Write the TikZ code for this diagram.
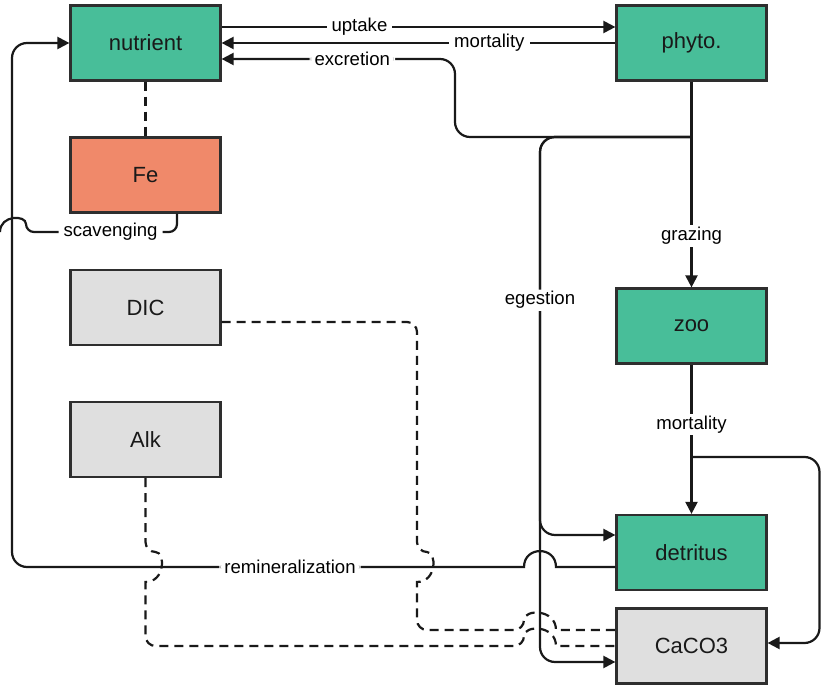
\documentclass[tikz,border=0pt]{standalone}
\usepackage{fontspec}
\setmainfont{Liberation Sans}
\usepackage{xcolor}
\usepackage{tikz}
\usetikzlibrary{arrows.meta,calc}
\definecolor{poolgreen}{HTML}{48BE99}
\definecolor{feorange}{HTML}{F0896A}
\definecolor{carbgray}{HTML}{DFDFDF}
\definecolor{edgegray}{HTML}{2E2E2E}
\tikzset{
	>={Triangle[length=6pt,width=6pt]},
	pool/.style = {
			rectangle,
			draw            = edgegray,
			line width      = 1.1pt,
			minimum width   = 75pt,
			minimum height  = 37.5pt,
			text            = black!90,
			font            = \fontsize{11}{13}\selectfont,
		},
	flow/.style = {draw=black!90, line width=1.1pt},
	dashlink/.style = {flow, dash pattern=on 4.5pt off 3pt},
	lbl/.style = {fill=white, inner xsep=2.5pt, inner ysep=1pt, font=\fontsize{9.3}{11}\selectfont},
	hopup/.style = {out=90, in=90, looseness=1.7},
	hopright/.style = {out=0, in=0, looseness=1.7},
}
\begin{document}
\begin{tikzpicture}[x=0.5pt,y=0.5pt]
	\useasboundingbox (0,0) rectangle (821,686);

	% Pools, left column
	\node[pool, fill=poolgreen] (nutrient) at (145.5,643) {nutrient};
	\node[pool, fill=feorange]  (fe)       at (145.5,511) {Fe};
	\node[pool, fill=carbgray]  (dic)      at (145.5,378.5) {DIC};
	\node[pool, fill=carbgray]  (alk)      at (145.5,246.5) {Alk};

	% Pools, right column
	\node[pool, fill=poolgreen] (phyto)    at (691.5,643) {phyto.};
	\node[pool, fill=poolgreen] (zoo)      at (691.5,360) {zoo};
	\node[pool, fill=poolgreen] (detritus) at (691.5,133.5) {detritus};
	\node[pool, fill=carbgray]  (caco3)    at (691.5,40) {CaCO3};

	% Split points
	\coordinate (split)   at (phyto.south |- 0,549);
	\coordinate (zsplit)  at (zoo.south |- 0,229);
	\coordinate (scavend) at (0,454);

	% Nutrient <-> phyto.
	\draw[flow,->] ([yshift=8pt]nutrient.east) -- node[lbl,pos=0.35]{uptake} ([yshift=8pt]phyto.west);
	\draw[flow,->] (phyto.west) -- node[lbl,pos=0.32]{mortality} (nutrient.east);
	\draw[flow,->,rounded corners=7.5pt] (split) -- (455,549) -- (455,627) -- node[lbl,pos=0.44]{excretion} ([yshift=-8pt]nutrient.east);

	% Egestion
	\draw[flow,->,rounded corners=7.5pt] (split) -- (540,549) -- (540,24) -- ([yshift=-8pt]caco3.west);
	\draw[flow,->,rounded corners=7.5pt] (split) -- (540,549) -- node[lbl,pos=0.41]{egestion} (540,151) -- ([yshift=8.75pt]detritus.west);

	% Grazing and zoo mortality
	\draw[flow,->] (phyto) -- node[lbl,pos=0.75]{grazing} (zoo);
	\draw[flow,->] (zoo) -- node[lbl,pos=0.4]{mortality} (detritus);
	\draw[flow,->,rounded corners=7.5pt] (zsplit) -- (819.5,229) -- (819.5,43) -- (caco3.east |- 0,43);

	% Remineralization
	\draw[flow,->] ([yshift=-7.25pt]detritus.west) -- (556,119) to[hopup] (524,119)
		[rounded corners=7.5pt] -- node[lbl,pos=0.457]{remineralization} (12,119) -- (12,0 |- nutrient.west) -- (nutrient.west);

	% Scavenging
	\draw[flow,rounded corners=4pt] ([xshift=15.75pt]fe.south) -- (177,454) -- node[lbl,pos=0.44]{scavenging} (26,454)
		[sharp corners] to[hopup] (scavend);

	% Dashed links
	\draw[dashlink] (nutrient) -- (fe);
	\draw[dashlink,rounded corners=5pt] ([yshift=-7.25pt]dic.east) -- (417,364) -- (417,134)
		[sharp corners] to[hopright] (417,104)
		[rounded corners=5pt] -- (417,56) -- (524,56)
		[sharp corners] to[hopup] (556,56) -- ([yshift=8pt]caco3.west);
	\draw[dashlink,rounded corners=5pt] (alk.south) -- (alk.south |- 0,134)
		[sharp corners] to[hopright] (alk.south |- 0,104)
		[rounded corners=5pt] -- (alk.south |- 0,40) -- (524,40)
		[sharp corners] to[hopup] (556,40) -- (caco3.west);
\end{tikzpicture}
\end{document}
